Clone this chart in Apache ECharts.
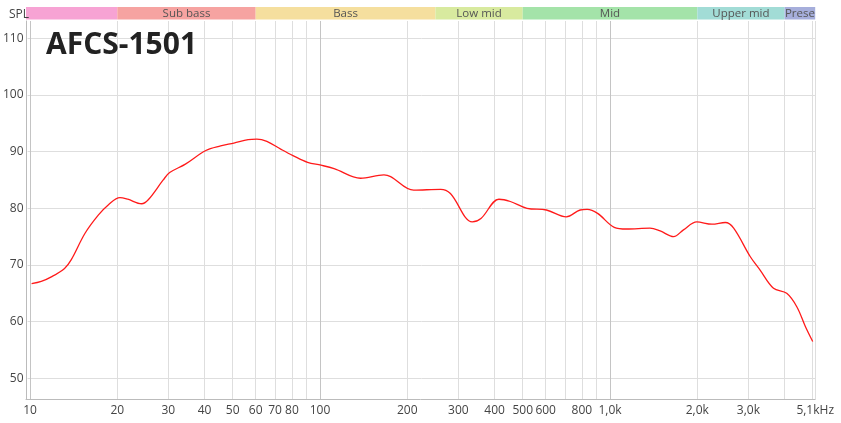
<!DOCTYPE html>
<html>
<head>
<meta charset="utf-8">
<script src="https://cdn.jsdelivr.net/npm/echarts@6/dist/echarts.min.js"></script>
<style>html,body{margin:0;padding:0;background:#fff}#c{width:841px;height:423px}</style>
</head>
<body>
<div id="c"></div>
<script>
// ---- data ----
const freqs = [10, 10.8, 11.7, 13.0, 13.7, 15.3, 17.0, 18.4, 20.2, 21.5, 24, 25.3, 28.5, 30, 34, 40, 45, 50, 56, 60, 65, 72.8, 80, 89.9, 100, 111, 137, 165, 174, 209, 259, 280, 333, 357, 412, 451, 515, 601, 704, 786, 831, 903, 1031, 1138, 1370, 1486, 1653, 1788, 1988, 2243, 2494, 2666, 3040, 3290, 3660, 4066, 4410, 4720, 5000];
const spl = [66.7, 67.1, 67.9, 69.4, 70.9, 75.6, 78.8, 80.6, 81.9, 81.6, 80.8, 81.5, 85.0, 86.3, 87.8, 90.2, 91.0, 91.5, 92.1, 92.2, 91.8, 90.4, 89.3, 88.1, 87.6, 87.0, 85.3, 85.9, 85.6, 83.2, 83.35, 82.6, 77.6, 78.2, 81.6, 81.2, 80.0, 79.7, 78.5, 79.7, 79.8, 79.1, 76.65, 76.35, 76.5, 76.0, 75.0, 76.2, 77.6, 77.2, 77.5, 76.5, 71.5, 69.1, 65.9, 65.0, 62.6, 59.1, 56.5];
const bandNames = ['', 'Sub bass', 'Bass', 'Low mid', 'Mid', 'Upper mid', 'Presence'];
const bandEdges = [9.687, 20, 60, 250, 500, 2000, 4000, 5100];
const bandColors = ['#f7a3d4', '#f6a3a1', '#f5df9e', '#d8ea9f', '#a4e3a9', '#a2dcd6', '#a6aedb'];
const xGridValues = [10, 20, 30, 40, 50, 60, 70, 80, 90, 100, 200, 300, 400, 500, 600, 700, 800, 900, 1000, 2000, 3000, 4000, 5000, 5100];
const xLabelValues = [10, 20, 30, 40, 50, 60, 70, 80, 100, 200, 300, 400, 500, 600, 800, 1000, 2000, 3000, 5100];
const xLabelTexts = ['10', '20', '30', '40', '50', '60', '70', '80', '100', '200', '300', '400', '500', '600', '800', '1,0k', '2,0k', '3,0k', '5,1kHz'];
const yMin = 50, yMax = 110, yStep = 10;
const titleText = 'AFCS-1501';
const yName = 'SPL';

// ---- chart ----
const XMIN = bandEdges[0], XMAX = bandEdges[bandEdges.length - 1];
const FONT = '"Open Sans", "Noto Sans", sans-serif';
const labelMap = {};
xLabelValues.forEach((v, i) => labelMap[v] = xLabelTexts[i]);
const gridColors = [];
for (let i = 0; i < 9; i++) gridColors.push(i === 0 ? '#c4c4c4' : '#dedede');

const chart = echarts.init(document.getElementById('c'), null, {renderer: 'canvas'});
const L = 26, R = 841 - 815.2;
const lastBand = bandNames.length - 1;
chart.setOption({
  animation: false,
  backgroundColor: '#ffffff',
  title: [
    {text: titleText, left: 41, top: 25, textStyle: {fontFamily: FONT, fontWeight: 'bold', fontSize: 30, color: '#222'}},
    {text: yName, left: 4, top: 4, textStyle: {fontFamily: FONT, fontWeight: 'normal', fontSize: 12, color: '#444'}}
  ],
  grid: [
    {left: L, right: R, top: 38.2, bottom: 423 - 378.4},
    {left: L, right: R, top: 21, bottom: 24},
    {left: L, right: R, top: 7, height: 12.5}
  ],
  xAxis: [
    {gridIndex: 0, type: 'log', logBase: 10, min: XMIN, max: XMAX, show: false},
    {gridIndex: 1, type: 'log', logBase: 10, min: XMIN, max: XMAX,
     axisLine: {show: true, lineStyle: {color: '#bbb', width: 1}},
     axisTick: {show: false, customValues: xGridValues},
     axisLabel: {customValues: xLabelValues, formatter: v => labelMap[v] !== undefined ? labelMap[v] : '', margin: 6, fontFamily: FONT, fontSize: 12, color: '#444', hideOverlap: false, showMinLabel: true, showMaxLabel: true},
     splitLine: {show: true, lineStyle: {color: gridColors, width: 1}},
     minorSplitLine: {show: false}},
    {gridIndex: 2, type: 'log', logBase: 10, min: XMIN, max: XMAX, show: false}
  ],
  yAxis: [
    {gridIndex: 0, type: 'value', min: yMin, max: yMax, interval: yStep,
     axisLine: {show: false}, axisTick: {show: false},
     axisLabel: {margin: 4, fontFamily: FONT, fontSize: 12, color: '#444'},
     splitLine: {show: true, lineStyle: {color: '#dedede', width: 1}}},
    {gridIndex: 1, type: 'value', min: 0, max: 1,
     axisLine: {show: true, lineStyle: {color: '#bbb'}}, axisTick: {show: false}, axisLabel: {show: false}, splitLine: {show: false}},
    {gridIndex: 2, type: 'value', min: 0, max: 1, show: false}
  ],
  series: [
    {type: 'line', xAxisIndex: 2, yAxisIndex: 2, data: [], silent: true,
     markArea: {silent: true,
       data: bandNames.map((n, i) => [
         {xAxis: bandEdges[i], yAxis: 0, itemStyle: {color: bandColors[i]},
          label: {show: true, position: 'inside', formatter: n, fontFamily: FONT, fontSize: 11.5, color: '#555',
                  width: i === lastBand ? 32 : undefined, overflow: i === lastBand ? 'truncate' : 'none', ellipsis: ''}},
         {xAxis: bandEdges[i + 1], yAxis: 1}
       ])}},
    {type: 'line', xAxisIndex: 0, yAxisIndex: 0, data: freqs.map((f, i) => [f, spl[i]]),
     smooth: 0.35, showSymbol: false, symbol: 'none',
     lineStyle: {color: '#ff1a1a', width: 1.3}}
  ]
});
</script>
</body>
</html>
